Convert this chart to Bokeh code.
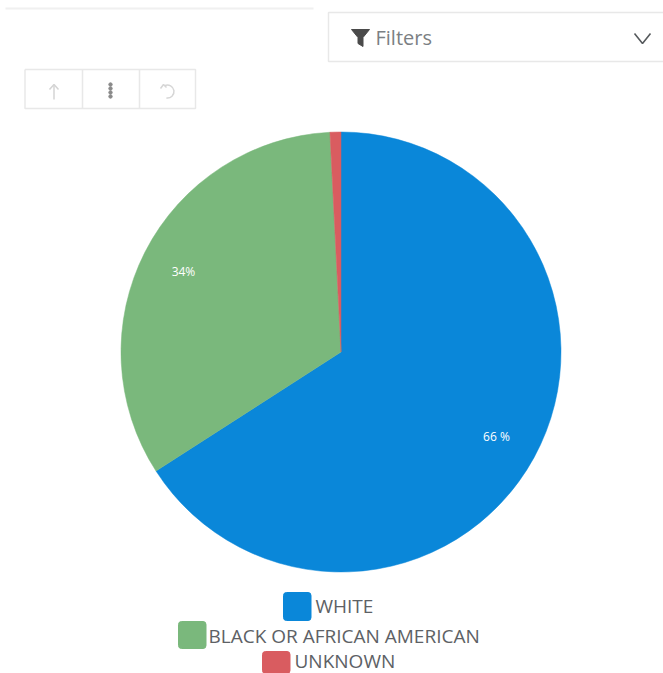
from math import pi, radians, sin, cos
from bokeh.embed import file_html
from bokeh.models import ColumnDataSource, Range1d
from bokeh.plotting import figure
from bokeh.resources import INLINE
from bokeh.core.properties import value

# Race breakdown shown by the pie
categories = ["WHITE", "BLACK OR AFRICAN AMERICAN", "UNKNOWN"]
shares = [65.9, 33.3, 0.8]
colors = ["#0a87d9", "#7ab87c", "#d95c60"]
slice_labels = ["66 %", "34%", ""]

W, H = 663, 673
FONT = value("Open Sans")
TEXT_GREY = "#5d6165"
BORDER = "#e8e8e8"


def sy(y):
    """Convert a top-down page row into the figure's upward y coordinate."""
    return H - y


p = figure(width=W, height=H, output_backend="svg", toolbar_location=None,
           x_range=Range1d(0, W), y_range=Range1d(0, H),
           min_border=0, outline_line_color=None, background_fill_color="white")
p.axis.visible = False
p.grid.visible = False

# Page chrome above the chart
p.line([5, 313], [sy(8), sy(8)], line_color="#f0f0f0", line_width=2)
p.line([663, 328, 328, 663], [sy(12), sy(12), sy(61), sy(61)],
       line_color=BORDER, line_width=1.5)
p.patch([351, 369, 362.5, 362.5, 357.5, 357.5],
        [sy(29), sy(29), sy(37), sy(46), sy(43), sy(37)], color="#4a4a4a")
p.text([375], [sy(37)], text=["Filters"], text_font=FONT, text_font_size="20px",
       text_color="#7b7f83", text_baseline="middle")
p.line([634, 642, 650], [sy(33), sy(43), sy(33)], line_color="#55595c", line_width=1.6)

# Drill-up / menu / reset button group
p.line([24.5, 195, 195, 24.5, 24.5], [sy(69), sy(69), sy(108), sy(108), sy(69)],
       line_color=BORDER, line_width=1.5)
for x in (82, 139):
    p.line([x, x], [sy(69), sy(108)], line_color=BORDER, line_width=1.5)
p.line([53.5, 53.5], [sy(84), sy(99)], line_color="#d4d4d4", line_width=1.5)
p.line([49, 53.5, 58], [sy(89), sy(84), sy(89)], line_color="#d4d4d4", line_width=1.5)
p.scatter([110, 110, 110, 110], [sy(84), sy(88), sy(92), sy(96)], size=3.4,
          color="#8a8a8a")
p.arc([167], [sy(91)], radius=6.5, start_angle=radians(-100), end_angle=radians(115),
      line_color="#d6d6d6", line_width=1.5)
p.line([160, 163, 166], [sy(88), sy(84), sy(87)], line_color="#d6d6d6", line_width=1.5)

# Pie, running clockwise from twelve o'clock
cx, cy, radius = 340.5, 351.5, 220
total = sum(shares)
starts, ends = [], []
cursor = pi / 2
for s in shares:
    sweep = 2 * pi * s / total
    starts.append(cursor - sweep)
    ends.append(cursor)
    cursor -= sweep

src = ColumnDataSource(dict(start=starts, end=ends, color=colors, name=categories))
p.wedge(x=cx, y=sy(cy), radius=radius, start_angle="start", end_angle="end",
        fill_color="color", line_color="color", line_width=0.5, source=src)

label_x, label_y = [], []
for a, b in zip(starts, ends):
    mid = (a + b) / 2
    label_x.append(cx + 0.805 * radius * cos(mid))
    label_y.append(sy(cy) + 0.805 * radius * sin(mid))
p.text(label_x, label_y, text=slice_labels, text_font=FONT, text_font_size="12px",
       text_color="white", text_align="center", text_baseline="middle")

# Legend rows, centred under the pie
swatch_left = [283, 178, 262]
row_top = [592, 621, 651]
swatch = [28, 27, 22]
text_left = [315, 208, 294]
text_mid = [605.5, 635, 660.5]
for i, name in enumerate(categories):
    p.quad(left=[swatch_left[i]], right=[swatch_left[i] + 27.5],
           top=[sy(row_top[i])], bottom=[sy(row_top[i] + swatch[i])],
           color=colors[i], border_radius=3)
    p.text([text_left[i]], [sy(text_mid[i])], text=[name], text_font=FONT,
           text_font_size="19px", text_color=TEXT_GREY, text_baseline="middle")

open("out.html", "w").write(file_html(p, INLINE))
